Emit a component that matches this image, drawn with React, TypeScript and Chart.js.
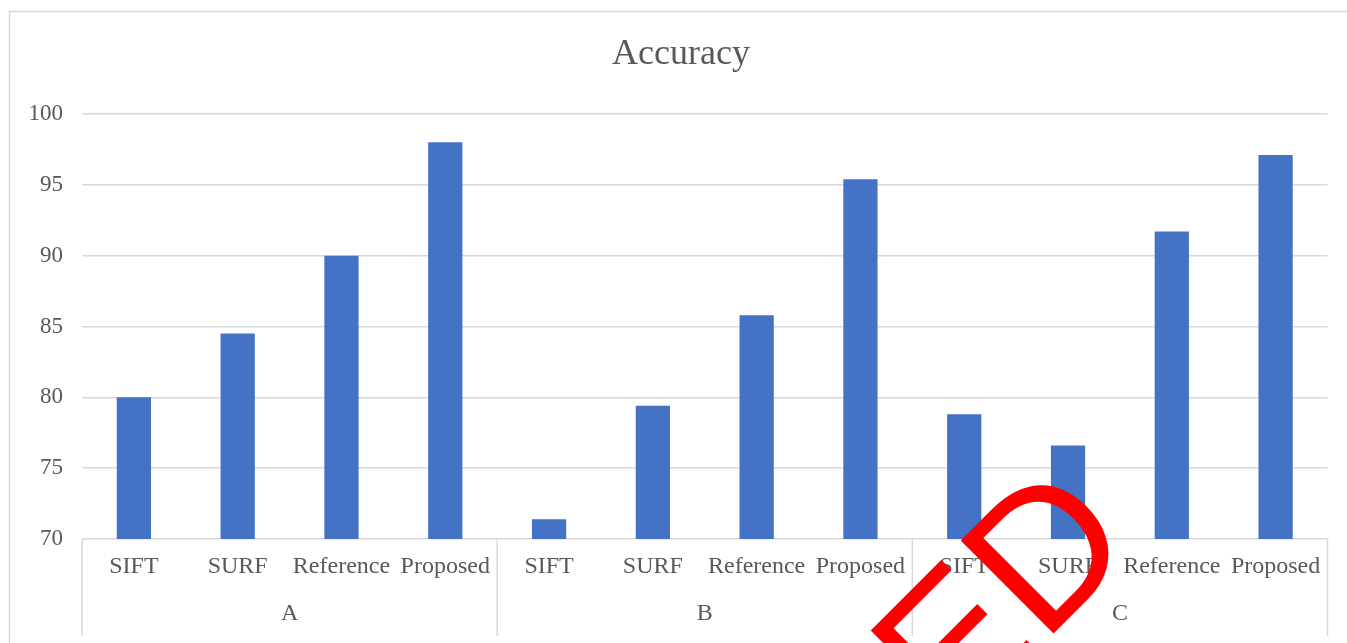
import React, { useEffect, useRef } from "react";
import { Chart, registerables } from "chart.js";

Chart.register(...registerables);

const titleText = "Accuracy";
const groups = ["A", "B", "C"];
const methods = ["SIFT", "SURF", "Reference", "Proposed"];
const valuesA = [80.0, 84.5, 90.0, 98.0];
const valuesB = [71.4, 79.4, 85.8, 95.4];
const valuesC = [78.8, 76.6, 91.7, 97.1];
const yTicks = [70, 75, 80, 85, 90, 95, 100];
const stampText = "RETRACTED";

const W = 1347;
const H = 643;
const SERIF = '"Liberation Serif", "Times New Roman", serif';
const TEXT = "#595959";
const GRID = "#d9d9d9";
const BAR = "#4472C4";

export default function App() {
  const ref = useRef<HTMLCanvasElement | null>(null);

  useEffect(() => {
    if (!ref.current) return;
    const groupValues = [valuesA, valuesB, valuesC];
    const labels: string[] = [];
    const data: number[] = [];
    groups.forEach((g, gi) => {
      methods.forEach((m, mi) => {
        labels.push(g + "|" + m);
        data.push(groupValues[gi][mi]);
      });
    });

    const overlay = {
      id: "overlay",
      afterDraw(chart: any) {
        const ctx = chart.ctx as CanvasRenderingContext2D;
        const xs = chart.scales.x;
        const area = chart.chartArea;
        ctx.save();
        // outer frame
        ctx.strokeStyle = GRID;
        ctx.lineWidth = 1.5;
        ctx.beginPath();
        ctx.moveTo(9.5, H);
        ctx.lineTo(9.5, 11.5);
        ctx.lineTo(W, 11.5);
        ctx.stroke();

        // title
        ctx.fillStyle = TEXT;
        ctx.font = `36px ${SERIF}`;
        ctx.textAlign = "center";
        ctx.textBaseline = "middle";
        ctx.fillText(titleText, 681, 55);

        // category labels
        const step = xs.getPixelForValue(1) - xs.getPixelForValue(0);
        ctx.font = `24px ${SERIF}`;
        labels.forEach((lab, i) => {
          const x = xs.getPixelForValue(i);
          ctx.fillText(lab.split("|")[1], x, 567);
        });
        groups.forEach((g, gi) => {
          const x0 = xs.getPixelForValue(gi * methods.length);
          const x1 = xs.getPixelForValue(gi * methods.length + methods.length - 1);
          ctx.fillText(g, (x0 + x1) / 2, 614);
        });

        // group separators
        ctx.strokeStyle = GRID;
        ctx.lineWidth = 1.5;
        for (let k = 0; k <= groups.length; k++) {
          const idx = Math.min(k * methods.length, labels.length - 1);
          const x =
            k * methods.length < labels.length
              ? xs.getPixelForValue(idx) - step / 2
              : xs.getPixelForValue(idx) + step / 2;
          ctx.beginPath();
          ctx.moveTo(x, area.bottom);
          ctx.lineTo(x, 636);
          ctx.stroke();
        }

        // stamp
        ctx.translate(1140, 547);
        ctx.rotate(-Math.PI / 4);
        ctx.fillStyle = "#ff0000";
        ctx.font = `191px "Liberation Sans", Arial, sans-serif`;
        ctx.textAlign = "right";
        ctx.textBaseline = "alphabetic";
        ctx.fillText(stampText, 0, 0);
        ctx.restore();
      },
    };

    const chart = new Chart(ref.current, {
      type: "bar",
      data: {
        labels,
        datasets: [
          {
            data,
            backgroundColor: BAR,
            barPercentage: 0.33,
            categoryPercentage: 1,
          },
        ],
      },
      options: {
        responsive: false,
        animation: false,
        layout: { padding: { left: 0, right: W - 1327.5, top: 114, bottom: 0 } },
        plugins: {
          legend: { display: false },
          title: { display: false },
          tooltip: { enabled: false },
        },
        scales: {
          x: {
            grid: { display: false },
            border: { display: false },
            ticks: { display: false },
            afterFit: (s: any) => {
              s.height = H - 539;
            },
          },
          y: {
            min: yTicks[0],
            max: yTicks[yTicks.length - 1],
            afterBuildTicks: (s: any) => {
              s.ticks = yTicks.map((v) => ({ value: v }));
            },
            ticks: {
              font: { family: SERIF, size: 23 },
              color: TEXT,
              padding: 19,
            },
            grid: { color: GRID, lineWidth: 1.5, drawTicks: false },
            border: { display: false },
            afterFit: (s: any) => {
              s.width = 82;
            },
          },
        },
      },
      plugins: [overlay],
    });
    return () => chart.destroy();
  }, []);

  return (
    <div
      style={{
        position: "fixed",
        left: 0,
        top: 0,
        width: W,
        height: H,
        background: "#fff",
      }}
    >
      <canvas ref={ref} width={W} height={H} style={{ display: "block", width: W, height: H }} />
    </div>
  );
}
